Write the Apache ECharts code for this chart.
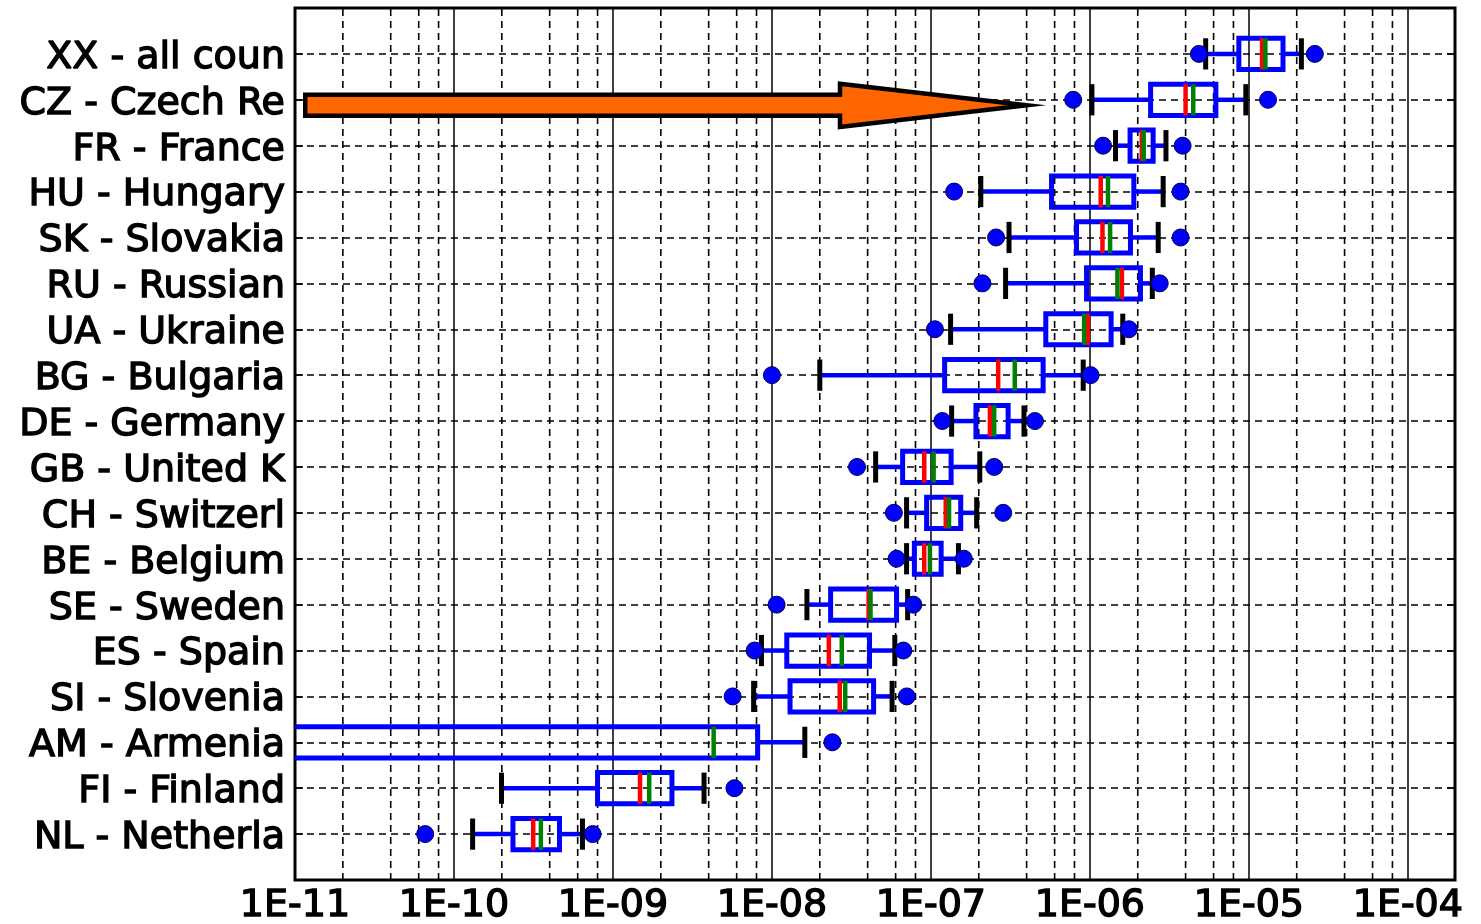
<!DOCTYPE html>
<html><head><meta charset="utf-8">
<script src="https://cdn.jsdelivr.net/npm/echarts@6/dist/echarts.min.js"></script>
<style>html,body{margin:0;padding:0;background:#fff}#c{width:1481px;height:924px}</style>
</head><body><div id="c"></div><script>
// ---- data (top row first) ----
const categories = ['XX - all coun','CZ - Czech Re','FR - France','HU - Hungary','SK - Slovakia','RU - Russian','UA - Ukraine','BG - Bulgaria','DE - Germany','GB - United K','CH - Switzerl','BE - Belgium','SE - Sweden','ES - Spain','SI - Slovenia','AM - Armenia','FI - Finland','NL - Netherla'];
const outlierLow  = [4.85e-6, 7.85e-7, 1.21e-6, 1.40e-7, 2.57e-7, 2.11e-7, 1.06e-7, 1.00e-8, 1.18e-7, 3.43e-8, 5.85e-8, 6.08e-8, 1.07e-8, 7.78e-9, 5.66e-9, null, null, 6.59e-11];
const whiskerLow  = [5.35e-6, 1.03e-6, 1.45e-6, 2.06e-7, 3.10e-7, 2.95e-7, 1.33e-7, 2.00e-8, 1.35e-7, 4.49e-8, 7.03e-8, 7.03e-8, 1.66e-8, 8.59e-9, 7.67e-9, 1.0e-13, 1.99e-10, 1.31e-10];
const q1          = [8.65e-6, 2.41e-6, 1.79e-6, 5.74e-7, 8.24e-7, 9.53e-7, 5.28e-7, 1.22e-7, 1.92e-7, 6.64e-8, 9.40e-8, 7.87e-8, 2.34e-8, 1.24e-8, 1.30e-8, 5.0e-13, 8.00e-10, 2.35e-10];
const median      = [1.21e-5, 4.00e-6, 2.12e-6, 1.17e-6, 1.20e-6, 1.59e-6, 9.68e-7, 2.65e-7, 2.35e-7, 9.08e-8, 1.24e-7, 9.08e-8, 4.06e-8, 2.28e-8, 2.67e-8, 2.0e-12, 1.48e-9, 3.15e-10];
const mean        = [1.27e-5, 4.47e-6, 2.18e-6, 1.30e-6, 1.34e-6, 1.49e-6, 9.20e-7, 3.37e-7, 2.50e-7, 1.04e-7, 1.30e-7, 9.86e-8, 4.17e-8, 2.75e-8, 2.89e-8, 4.30e-9, 1.69e-9, 3.52e-10];
const q3          = [1.64e-5, 6.20e-6, 2.50e-6, 1.89e-6, 1.80e-6, 2.08e-6, 1.36e-6, 5.08e-7, 3.06e-7, 1.34e-7, 1.54e-7, 1.16e-7, 6.08e-8, 4.11e-8, 4.36e-8, 8.13e-9, 2.35e-9, 4.61e-10];
const whiskerHigh = [2.14e-5, 9.57e-6, 3.01e-6, 2.89e-6, 2.69e-6, 2.47e-6, 1.61e-6, 9.08e-7, 3.85e-7, 2.03e-7, 1.94e-7, 1.49e-7, 7.14e-8, 5.93e-8, 5.70e-8, 1.61e-8, 3.74e-9, 6.43e-10];
const outlierHigh = [2.60e-5, 1.32e-5, 3.83e-6, 3.72e-6, 3.72e-6, 2.75e-6, 1.76e-6, 1.01e-6, 4.51e-7, 2.50e-7, 2.85e-7, 1.61e-7, 7.76e-8, 6.71e-8, 7.05e-8, 2.40e-8, 5.81e-9, 7.45e-10];
const decadeExponents = [-11, -10, -9, -8, -7, -6, -5, -4];
const minorMultipliers = [2, 4, 6, 8];
// annotation arrow (data coords): tail, head base, tip (x values), row position
const arrowTailX = 1.16e-11, arrowBaseX = 2.68e-8, arrowTipX = 4.0e-7, arrowRow = 16.88;

const X_MIN = 1e-11, X_MAX = 1.98e-4;
const N = categories.length;
const posOf = i => N - i;

const boxData = categories.map((c, i) => [posOf(i), whiskerLow[i], q1[i], median[i], mean[i], q3[i], whiskerHigh[i]]);
const outlierData = [];
categories.forEach((c, i) => {
  if (outlierLow[i] != null) outlierData.push([outlierLow[i], posOf(i)]);
  if (outlierHigh[i] != null) outlierData.push([outlierHigh[i], posOf(i)]);
});
const minorValues = [];
decadeExponents.forEach(e => minorMultipliers.forEach(m => { const v = m * Math.pow(10, e); if (v < X_MAX) minorValues.push([v]); }));

const FONT = 'DejaVu Sans';
const BLUE = '#0000ff', RED = '#ff0000', GREEN = '#008000';
const HALF = 0.34;

const chart = echarts.init(document.getElementById('c'), null, {renderer: 'canvas'});
chart.setOption({
  animation: false,
  backgroundColor: '#fff',
  grid: {left: 295, right: 26, top: 8, bottom: 44, show: true, borderColor: '#000', borderWidth: 3, backgroundColor: 'transparent', outerBoundsMode: 'none', containLabel: false},
  xAxis: {
    type: 'log', logBase: 10, min: X_MIN, max: X_MAX, splitNumber: 7,
    axisLine: {show: false},
    axisTick: {show: false},
    axisLabel: {
      fontFamily: FONT, fontSize: 38, color: '#000', margin: 7,
      textBorderColor: '#000', textBorderWidth: 1.4,
      showMaxLabel: false,
      formatter: v => { const e = Math.log10(v), r = Math.round(e); if (Math.abs(e - r) > 1e-6) return ''; return '1E-' + String(-r).padStart(2, '0'); }
    },
    splitLine: {show: true, lineStyle: {color: '#000', width: 1.5, type: 'solid'}}
  },
  yAxis: [{
    type: 'value', min: 0, max: N + 1, interval: 1,
    axisLine: {show: false},
    axisTick: {show: true, inside: true, length: 8, lineStyle: {color: '#000', width: 1.5}},
    axisLabel: {
      fontFamily: FONT, fontSize: 38, color: '#000', margin: 10,
      textBorderColor: '#000', textBorderWidth: 1.4,
      verticalAlign: 'top', lineHeight: 8,
      formatter: v => (v >= 1 && v <= N) ? categories[N - Math.round(v)] : ''
    },
    splitLine: {show: true, lineStyle: {color: '#000', width: 1.6, type: [7, 5]}}
  }, {
    type: 'value', position: 'right', min: 0, max: N + 1, interval: 1,
    axisLine: {show: false},
    axisTick: {show: true, inside: true, length: 8, lineStyle: {color: '#000', width: 1.5}},
    axisLabel: {show: false},
    splitLine: {show: false}
  }],
  series: [{
    name: 'minorGrid', type: 'custom', z: 1, clip: true, silent: true,
    data: minorValues,
    encode: {x: 0},
    renderItem: (params, api) => {
      const v = api.value(0);
      const a = api.coord([v, 0]), b = api.coord([v, N + 1]);
      return {type: 'line', shape: {x1: a[0], y1: a[1], x2: b[0], y2: b[1]},
        style: {stroke: '#000', lineWidth: 1.6, lineDash: [7, 5]}};
    }
  }, {
    name: 'boxes', type: 'custom', z: 3, clip: true,
    data: boxData,
    encode: {x: [1, 2, 3, 4, 5, 6], y: 0},
    renderItem: (params, api) => {
      const p = api.value(0);
      const yc = api.coord([X_MIN, p])[1];
      const yt = api.coord([X_MIN, p + HALF])[1];
      const yb = api.coord([X_MIN, p - HALF])[1];
      const x = k => api.coord([api.value(k), p])[0];
      const wl = x(1), b1 = x(2), md = x(3), mn = x(4), b3 = x(5), wh = x(6);
      const seg = (x1, y1, x2, y2, color, w) => ({type: 'line', shape: {x1, y1, x2, y2}, style: {stroke: color, lineWidth: w, lineCap: 'butt'}});
      return {type: 'group', children: [
        seg(wl, yc, b1, yc, BLUE, 4.5),
        seg(b3, yc, wh, yc, BLUE, 4.5),
        {type: 'rect', shape: {x: b1, y: yt, width: b3 - b1, height: yb - yt}, style: {fill: null, stroke: BLUE, lineWidth: 5}},
        seg(md, yt, md, yb, RED, 4.5),
        seg(mn, yt, mn, yb, GREEN, 4.5),
        seg(wl, yt, wl, yb, '#000', 5),
        seg(wh, yt, wh, yb, '#000', 5)
      ]};
    }
  }, {
    name: 'outliers', type: 'scatter', z: 4,
    data: outlierData,
    symbol: 'circle', symbolSize: 17,
    itemStyle: {color: BLUE, borderColor: '#00004d', borderWidth: 1, opacity: 1}
  }, {
    name: 'arrow', type: 'custom', z: 6, clip: true, silent: true,
    data: [[arrowTailX, arrowBaseX, arrowTipX, arrowRow]],
    encode: {x: [0, 1, 2], y: 3},
    renderItem: (params, api) => {
      const r = api.value(3);
      const pt = (xv, dy) => api.coord([xv, r + dy]);
      const tX = api.value(0), bX = api.value(1), pX = api.value(2);
      const pts = [pt(tX, 0.23), pt(bX, 0.23), pt(bX, 0.47), pt(pX, 0), pt(bX, -0.47), pt(bX, -0.23), pt(tX, -0.23)];
      return {type: 'polygon', shape: {points: pts}, style: {fill: '#ff6600', stroke: '#000', lineWidth: 4.5, lineJoin: 'miter'}};
    }
  }]
});
</script></body></html>
